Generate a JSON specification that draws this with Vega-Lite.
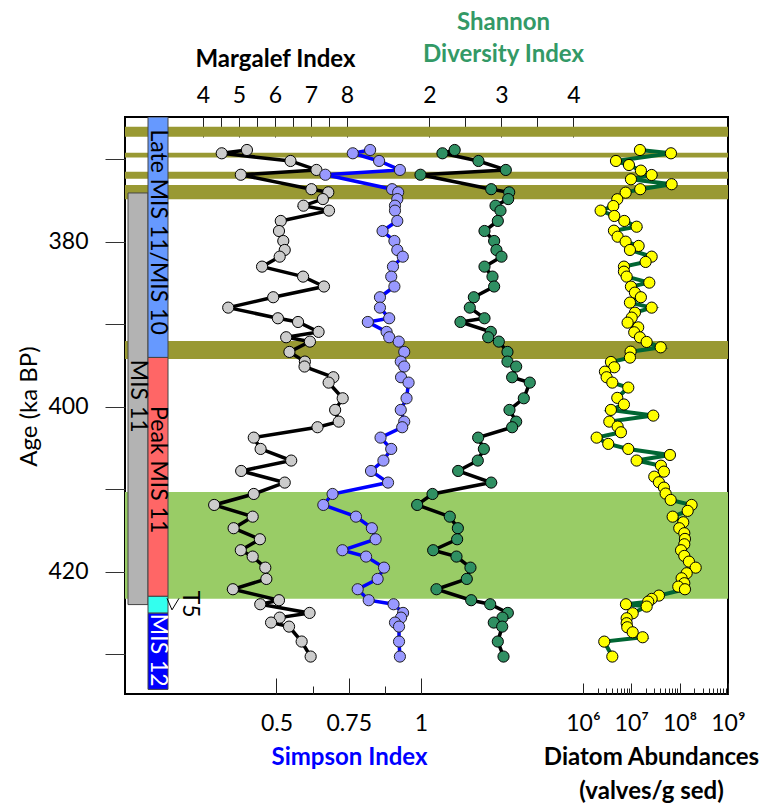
{
 "$schema": "https://vega.github.io/schema/vega-lite/v6.json",
 "width": 603, "height": 577,
 "autosize": {"type": "none"},
 "padding": {"left": 125, "top": 117, "right": 44, "bottom": 113},
 "config": {"font": "Lato", "view": {"stroke": "black", "strokeWidth": 2},
  "axis": {"grid": false, "domain": false, "labelColor": "black", "titleColor": "black", "tickColor": "#222", "labelFontSize": 23, "titleFontSize": 24, "labelFont": "Lato", "titleFont": "Lato", "labelFlush": false, "labelOverlap": false}},
 "datasets": {
  "bands": [
   {"kind": "I", "age": 366.02, "age2": 367.24},
   {"kind": "I", "age": 369.18, "age2": 369.76},
   {"kind": "I", "age": 371.48, "age2": 372.33},
   {"kind": "I", "age": 373.09, "age2": 374.82},
   {"kind": "I", "age": 392.0, "age2": 394.18},
   {"kind": "II", "age": 410.3, "age2": 423.24}
  ],
  "mis": [
   {"stage": "MIS 11", "c0": 0, "c1": 1, "age": 374.06, "age2": 423.96},
   {"stage": "Late MIS 11/MIS 10", "c0": 1, "c1": 2, "age": 364.85, "age2": 394.0},
   {"stage": "Peak MIS 11", "c0": 1, "c1": 2, "age": 394.0, "age2": 422.96},
   {"stage": "T5", "c0": 1, "c1": 2, "age": 422.96, "age2": 425.0},
   {"stage": "MIS 12", "c0": 1, "c1": 2, "age": 425.0, "age2": 434.24}
  ],
  "labels": [
   {"label": "Late MIS 11/MIS 10", "c": 1.5, "age": 378.8},
   {"label": "Peak MIS 11", "c": 1.5, "age": 407.6},
   {"label": "MIS 11", "c": 0.5, "age": 398.7},
   {"label": "MIS 12", "c": 1.5, "age": 429.5},
   {"label": "T5", "c": 3.1, "age": 423.9}
  ],
  "pointer": [
   {"c": 1.95, "c2": 2.2, "age": 423.2, "age2": 424.6},
   {"c": 2.55, "c2": 2.2, "age": 423.2, "age2": 424.6}
  ],
  "idx": [
   {"age": 368.85, "margalef": 5.22, "simpson": 0.824, "shannon": 2.35},
   {"age": 369.25, "margalef": 4.52, "simpson": 0.764, "shannon": 2.18},
   {"age": 370.18, "margalef": 6.43, "simpson": 0.855, "shannon": 2.68},
   {"age": 371.27, "margalef": 7.15, "simpson": 0.927, "shannon": 3.06},
   {"age": 371.85, "margalef": 5.05, "simpson": 0.669, "shannon": 1.875},
   {"age": 373.6, "margalef": 7.01, "simpson": 0.9, "shannon": 2.857},
   {"age": 373.98, "margalef": 7.48, "simpson": 0.921, "shannon": 3.107},
   {"age": 374.8, "margalef": 7.33, "simpson": 0.918, "shannon": 3.093},
   {"age": 375.6, "margalef": 6.79, "simpson": 0.91, "shannon": 2.917},
   {"age": 376.2, "margalef": 7.5, "simpson": 0.91, "shannon": 2.986},
   {"age": 377.45, "margalef": 6.16, "simpson": 0.918, "shannon": 2.949},
   {"age": 378.67, "margalef": 6.11, "simpson": 0.867, "shannon": 2.764},
   {"age": 379.88, "margalef": 6.23, "simpson": 0.908, "shannon": 2.898},
   {"age": 380.97, "margalef": 6.27, "simpson": 0.918, "shannon": 2.93},
   {"age": 381.78, "margalef": 6.13, "simpson": 0.937, "shannon": 3.0},
   {"age": 382.99, "margalef": 5.64, "simpson": 0.903, "shannon": 2.764},
   {"age": 384.2, "margalef": 6.78, "simpson": 0.897, "shannon": 2.875},
   {"age": 385.4, "margalef": 7.36, "simpson": 0.908, "shannon": 2.898},
   {"age": 386.7, "margalef": 5.95, "simpson": 0.858, "shannon": 2.616},
   {"age": 387.96, "margalef": 4.7, "simpson": 0.858, "shannon": 2.56},
   {"age": 389.25, "margalef": 6.08, "simpson": 0.89, "shannon": 2.764},
   {"age": 389.7, "margalef": 6.64, "simpson": 0.816, "shannon": 2.43},
   {"age": 390.9, "margalef": 7.21, "simpson": 0.881, "shannon": 2.852},
   {"age": 391.55, "margalef": 6.31, "simpson": 0.89, "shannon": 2.815},
   {"age": 392.08, "margalef": 6.97, "simpson": 0.923, "shannon": 2.963},
   {"age": 393.33, "margalef": 6.4, "simpson": 0.942, "shannon": 3.083},
   {"age": 394.5, "margalef": 6.83, "simpson": 0.93, "shannon": 3.083},
   {"age": 395.1, "margalef": 6.82, "simpson": 0.942, "shannon": 3.204},
   {"age": 396.4, "margalef": 7.62, "simpson": 0.931, "shannon": 3.148},
   {"age": 397.05, "margalef": 7.49, "simpson": 0.957, "shannon": 3.393},
   {"age": 398.95, "margalef": 7.88, "simpson": 0.95, "shannon": 3.31},
   {"age": 400.36, "margalef": 7.67, "simpson": 0.93, "shannon": 3.111},
   {"age": 401.78, "margalef": 7.77, "simpson": 0.942, "shannon": 3.204},
   {"age": 402.46, "margalef": 7.18, "simpson": 0.935, "shannon": 3.148},
   {"age": 403.72, "margalef": 5.41, "simpson": 0.86, "shannon": 2.676},
   {"age": 405.09, "margalef": 5.6, "simpson": 0.897, "shannon": 2.755},
   {"age": 406.5, "margalef": 6.45, "simpson": 0.87, "shannon": 2.671},
   {"age": 407.76, "margalef": 5.06, "simpson": 0.827, "shannon": 2.398},
   {"age": 409.17, "margalef": 6.27, "simpson": 0.886, "shannon": 2.857},
   {"age": 410.55, "margalef": 5.41, "simpson": 0.694, "shannon": 2.042},
   {"age": 411.88, "margalef": 4.31, "simpson": 0.662, "shannon": 1.829},
   {"age": 413.3, "margalef": 5.38, "simpson": 0.775, "shannon": 2.282},
   {"age": 414.7, "margalef": 4.85, "simpson": 0.83, "shannon": 2.394},
   {"age": 416.04, "margalef": 5.58, "simpson": 0.843, "shannon": 2.384},
   {"age": 417.37, "margalef": 5.05, "simpson": 0.728, "shannon": 2.051},
   {"age": 418.14, "margalef": 5.38, "simpson": 0.81, "shannon": 2.375},
   {"age": 419.48, "margalef": 5.73, "simpson": 0.872, "shannon": 2.569},
   {"age": 420.85, "margalef": 5.76, "simpson": 0.85, "shannon": 2.518},
   {"age": 422.1, "margalef": 4.83, "simpson": 0.781, "shannon": 2.097},
   {"age": 423.43, "margalef": 6.11, "simpson": 0.819, "shannon": 2.579},
   {"age": 423.92, "margalef": 5.59, "simpson": 0.905, "shannon": 2.843},
   {"age": 424.97, "margalef": 6.96, "simpson": 0.938, "shannon": 3.088},
   {"age": 425.54, "margalef": 6.13, "simpson": 0.931, "shannon": 3.014},
   {"age": 426.14, "margalef": 5.89, "simpson": 0.91, "shannon": 2.893},
   {"age": 426.63, "margalef": 6.39, "simpson": 0.924, "shannon": 3.01},
   {"age": 428.44, "margalef": 6.74, "simpson": 0.924, "shannon": 2.949},
   {"age": 430.26, "margalef": 6.99, "simpson": 0.927, "shannon": 3.028}
  ],
  "diatom": [
   {"age": 368.85, "abund": 1.51e7}, {"age": 369.25, "abund": 6.62e7}, {"age": 370.18, "abund": 4.82e6},
   {"age": 370.67, "abund": 8.95e6}, {"age": 371.35, "abund": 1.58e7}, {"age": 371.88, "abund": 2.64e7},
   {"age": 372.4, "abund": 9.84e6}, {"age": 373.0, "abund": 6.84e7}, {"age": 373.6, "abund": 1.53e7},
   {"age": 374.02, "abund": 7.64e6}, {"age": 374.82, "abund": 5.13e6}, {"age": 375.64, "abund": 4.24e6},
   {"age": 376.2, "abund": 2.32e6}, {"age": 376.85, "abund": 4.45e6}, {"age": 377.45, "abund": 7.16e6},
   {"age": 378.15, "abund": 1.29e7}, {"age": 378.63, "abund": 4.38e6}, {"age": 379.36, "abund": 5.22e6},
   {"age": 379.96, "abund": 7.64e6}, {"age": 380.48, "abund": 1.42e7}, {"age": 380.97, "abund": 9.38e6},
   {"age": 381.78, "abund": 2.64e7}, {"age": 382.42, "abund": 1.98e7}, {"age": 382.99, "abund": 7.05e6},
   {"age": 383.6, "abund": 7.05e6}, {"age": 384.2, "abund": 8.02e6}, {"age": 384.93, "abund": 2.36e7},
   {"age": 385.41, "abund": 9.84e6}, {"age": 386.14, "abund": 1.19e7}, {"age": 386.7, "abund": 1.58e7},
   {"age": 387.35, "abund": 9.38e6}, {"age": 387.96, "abund": 2.64e7}, {"age": 388.57, "abund": 1.19e7},
   {"age": 389.17, "abund": 1.02e7}, {"age": 389.78, "abund": 8.39e6}, {"age": 390.35, "abund": 1.39e7},
   {"age": 390.95, "abund": 1.15e7}, {"age": 391.56, "abund": 1.51e7}, {"age": 392.12, "abund": 2.08e7},
   {"age": 392.77, "abund": 4.06e7}, {"age": 393.3, "abund": 9.68e6}, {"age": 394.02, "abund": 9.38e6},
   {"age": 394.55, "abund": 3.79e6}, {"age": 395.19, "abund": 4.45e6}, {"age": 395.72, "abund": 2.85e6},
   {"age": 396.4, "abund": 3.09e6}, {"age": 397.05, "abund": 4.05e6}, {"age": 397.65, "abund": 8.67e6},
   {"age": 398.9, "abund": 5.13e6}, {"age": 399.7, "abund": 7.05e6}, {"age": 400.36, "abund": 3.79e6},
   {"age": 401.05, "abund": 2.85e7}, {"age": 401.78, "abund": 3.51e6}, {"age": 402.38, "abund": 5.22e6},
   {"age": 403.07, "abund": 6.11e6}, {"age": 403.72, "abund": 1.92e6}, {"age": 404.48, "abund": 3.34e6},
   {"age": 405.09, "abund": 8.67e6}, {"age": 405.82, "abund": 6.31e7}, {"age": 406.5, "abund": 1.29e7},
   {"age": 407.12, "abund": 4.11e7}, {"age": 407.84, "abund": 4.74e7}, {"age": 408.45, "abund": 2.99e7},
   {"age": 409.13, "abund": 3.73e7}, {"age": 409.78, "abund": 4.74e7}, {"age": 410.5, "abund": 5.14e7},
   {"age": 411.27, "abund": 6.53e7}, {"age": 411.88, "abund": 1.77e8}, {"age": 412.6, "abund": 1.47e8},
   {"age": 413.3, "abund": 7.18e7}, {"age": 413.98, "abund": 1.19e8}, {"age": 414.7, "abund": 9.84e7},
   {"age": 415.31, "abund": 1.25e8}, {"age": 416.0, "abund": 1.29e8}, {"age": 416.65, "abund": 1.25e8},
   {"age": 417.37, "abund": 1.07e8}, {"age": 418.06, "abund": 1.25e8}, {"age": 418.75, "abund": 1.56e8},
   {"age": 419.48, "abund": 2.15e8}, {"age": 420.16, "abund": 1.4e8}, {"age": 420.77, "abund": 1.1e8},
   {"age": 421.37, "abund": 1.25e8}, {"age": 421.78, "abund": 9.38e7}, {"age": 422.1, "abund": 1.29e8},
   {"age": 422.87, "abund": 3.73e7}, {"age": 423.27, "abund": 2.64e7}, {"age": 423.6, "abund": 2.24e7},
   {"age": 423.92, "abund": 7.76e6}, {"age": 424.2, "abund": 2.08e7}, {"age": 425.01, "abund": 1.07e7},
   {"age": 425.62, "abund": 8.02e6}, {"age": 426.22, "abund": 8.02e6}, {"age": 426.71, "abund": 8.26e6},
   {"age": 427.32, "abund": 1.07e7}, {"age": 427.92, "abund": 1.72e7}, {"age": 428.45, "abund": 2.76e6},
   {"age": 430.26, "abund": 4.05e6}
  ]
 },
 "encoding": {
  "y": {"field": "age", "type": "quantitative",
   "scale": {"domain": [364.85, 434.8], "reverse": true, "nice": false, "zero": false},
   "axis": {"orient": "left", "values": [370, 380, 390, 400, 410, 420, 430],
    "labelExpr": "datum.value % 20 == 0 ? datum.label : ''",
    "tickSize": 20, "labelPadding": 17, "tickColor": "#333",
    "title": "Age (ka BP)", "titleFontWeight": "normal", "titleX": -96, "titleY": 289,
    "titleAngle": -90, "titleAlign": "center", "titleBaseline": "middle"}}
 },
 "layer": [
  {"data": {"name": "bands"}, "mark": {"type": "rect", "clip": true},
   "encoding": {"y2": {"field": "age2"},
    "color": {"field": "kind", "type": "nominal", "scale": {"domain": ["I", "II"], "range": ["#999933", "#99cc66"]}, "legend": null}}},
  {"data": {"name": "mis"}, "mark": {"type": "rect", "clip": true, "stroke": "#444", "strokeWidth": 1},
   "encoding": {
    "x": {"field": "c0", "type": "quantitative", "scale": {"domain": [-0.15, 30], "nice": false, "zero": false}, "axis": null},
    "x2": {"field": "c1"},
    "y2": {"field": "age2"},
    "fill": {"field": "stage", "type": "nominal", "legend": null,
     "scale": {"domain": ["MIS 11", "Late MIS 11/MIS 10", "Peak MIS 11", "T5", "MIS 12"],
      "range": ["#b3b3b3", "#6699ff", "#ff6666", "#33ffee", "#0000ff"]}}}},
  {"data": {"name": "pointer"}, "mark": {"type": "rule", "color": "black", "strokeWidth": 1},
   "encoding": {
    "x": {"field": "c", "type": "quantitative", "scale": {"domain": [-0.15, 30], "nice": false, "zero": false}, "axis": null},
    "x2": {"field": "c2"},
    "y2": {"field": "age2"}}},
  {"data": {"name": "labels"}, "mark": {"type": "text", "angle": 90, "fontSize": 23, "align": "center", "baseline": "middle", "font": "Lato"},
   "encoding": {
    "x": {"field": "c", "type": "quantitative", "scale": {"domain": [-0.15, 30], "nice": false, "zero": false}, "axis": null},
    "text": {"field": "label"},
    "color": {"condition": {"test": "datum.label == 'MIS 12'", "value": "white"}, "value": "black"}}},
  {"data": {"name": "idx"}, "mark": {"type": "line", "color": "black", "strokeWidth": 3.5},
   "encoding": {
    "x": {"field": "margalef", "type": "quantitative", "scale": {"domain": [1.833, 18.583], "nice": false, "zero": false},
     "axis": {"orient": "top", "values": [4, 4.5, 5, 5.5, 6, 6.5, 7, 7.5, 8], "labels": false, "title": null,
      "tickSize": {"condition": {"test": "datum.value % 1 == 0", "value": -20}, "value": -10}}},
    "order": {"field": "age"}}},
  {"data": {"name": "idx"}, "mark": {"type": "line", "color": "#0000ff", "strokeWidth": 3.5},
   "encoding": {
    "x": {"field": "simpson", "type": "quantitative", "scale": {"domain": [-0.0242, 2.0623], "nice": false, "zero": false},
     "axis": {"orient": "bottom", "values": [0.5, 0.625, 0.75, 0.875, 1], "labels": false, "title": null,
      "tickSize": {"condition": {"test": "datum.value % 0.25 == 0", "value": -16}, "value": -8}}},
    "order": {"field": "age"}}},
  {"data": {"name": "idx"}, "mark": {"type": "line", "color": "black", "strokeWidth": 3.5},
   "encoding": {
    "x": {"field": "shannon", "type": "quantitative", "scale": {"domain": [-2.229, 6.146], "nice": false, "zero": false},
     "axis": {"orient": "top", "values": [2, 2.5, 3, 3.5, 4], "labels": false, "title": null,
      "tickSize": {"condition": {"test": "datum.value % 1 == 0", "value": -20}, "value": -10}}},
    "order": {"field": "age"}}},
  {"data": {"name": "diatom"}, "mark": {"type": "line", "color": "#006633", "strokeWidth": 4},
   "encoding": {
    "x": {"field": "abund", "type": "quantitative", "scale": {"type": "log", "domain": [0.000334, 1003000000], "nice": false},
     "axis": {"orient": "bottom", "labels": false, "title": null,
      "values": [1000000, 2000000, 3000000, 4000000, 5000000, 6000000, 7000000, 8000000, 9000000, 10000000, 20000000, 30000000, 40000000, 50000000, 60000000, 70000000, 80000000, 90000000, 100000000, 200000000, 300000000, 400000000, 500000000, 600000000, 700000000, 800000000, 900000000, 1000000000],
      "tickSize": {"condition": {"test": "datum.value == 1e6 || datum.value == 1e7 || datum.value == 1e8 || datum.value == 1e9", "value": -11}, "value": -6}}},
    "order": {"field": "age"}}},
  {"data": {"name": "idx"}, "mark": {"type": "point", "filled": true, "fill": "#cccccc", "stroke": "black", "strokeWidth": 1, "size": 125, "opacity": 1},
   "encoding": {
    "x": {"field": "margalef", "type": "quantitative", "scale": {"domain": [1.833, 18.583], "nice": false, "zero": false},
     "axis": {"orient": "top", "values": [4, 5, 6, 7, 8], "ticks": false, "labelPadding": 22, "labelBaseline": "middle", "format": "d",
      "title": "Margalef Index", "titleFontWeight": "bold", "titleX": 150, "titleY": -58, "titleAlign": "center", "titleBaseline": "middle", "titleAngle": 0}}}},
  {"data": {"name": "idx"}, "mark": {"type": "point", "filled": true, "fill": "#9999ff", "stroke": "#222", "strokeWidth": 1, "size": 125, "opacity": 1},
   "encoding": {
    "x": {"field": "simpson", "type": "quantitative", "scale": {"domain": [-0.0242, 2.0623], "nice": false, "zero": false},
     "axis": {"orient": "bottom", "values": [0.5, 0.75, 1], "ticks": false, "labelPadding": 29, "labelBaseline": "middle", "format": "~g",
      "title": "Simpson Index", "titleColor": "#0000ff", "titleFontWeight": "bold", "titleX": 224, "titleY": 63, "titleAlign": "center", "titleBaseline": "middle", "titleAngle": 0}}}},
  {"data": {"name": "idx"}, "mark": {"type": "point", "filled": true, "fill": "#2f8f62", "stroke": "black", "strokeWidth": 1, "size": 125, "opacity": 1},
   "encoding": {
    "x": {"field": "shannon", "type": "quantitative", "scale": {"domain": [-2.229, 6.146], "nice": false, "zero": false},
     "axis": {"orient": "top", "values": [2, 3, 4], "ticks": false, "labelPadding": 22, "labelBaseline": "middle", "format": "d",
      "title": ["Shannon", "Diversity Index"], "titleColor": "#339966", "titleFontWeight": "bold", "titleLineHeight": 32, "titleX": 378, "titleY": -95, "titleAlign": "center", "titleBaseline": "middle", "titleAngle": 0}}}},
  {"data": {"name": "diatom"}, "mark": {"type": "point", "filled": true, "fill": "#ffff00", "stroke": "black", "strokeWidth": 1, "size": 125, "opacity": 1},
   "encoding": {
    "x": {"field": "abund", "type": "quantitative", "scale": {"type": "log", "domain": [0.000334, 1003000000], "nice": false},
     "axis": {"orient": "bottom", "values": [1000000, 10000000, 100000000, 1000000000], "ticks": false, "labelPadding": 29, "labelBaseline": "middle",
      "labelExpr": "datum.value == 1e6 ? '10⁶' : datum.value == 1e7 ? '10⁷' : datum.value == 1e8 ? '10⁸' : '10⁹'",
      "title": ["Diatom Abundances", "(valves/g sed)"], "titleFontWeight": "bold", "titleLineHeight": 34, "titleX": 526, "titleY": 63, "titleAlign": "center", "titleBaseline": "middle", "titleAngle": 0}}}}
 ],
 "resolve": {"scale": {"x": "independent", "color": "independent", "fill": "independent"}, "axis": {"x": "independent"}}
}
